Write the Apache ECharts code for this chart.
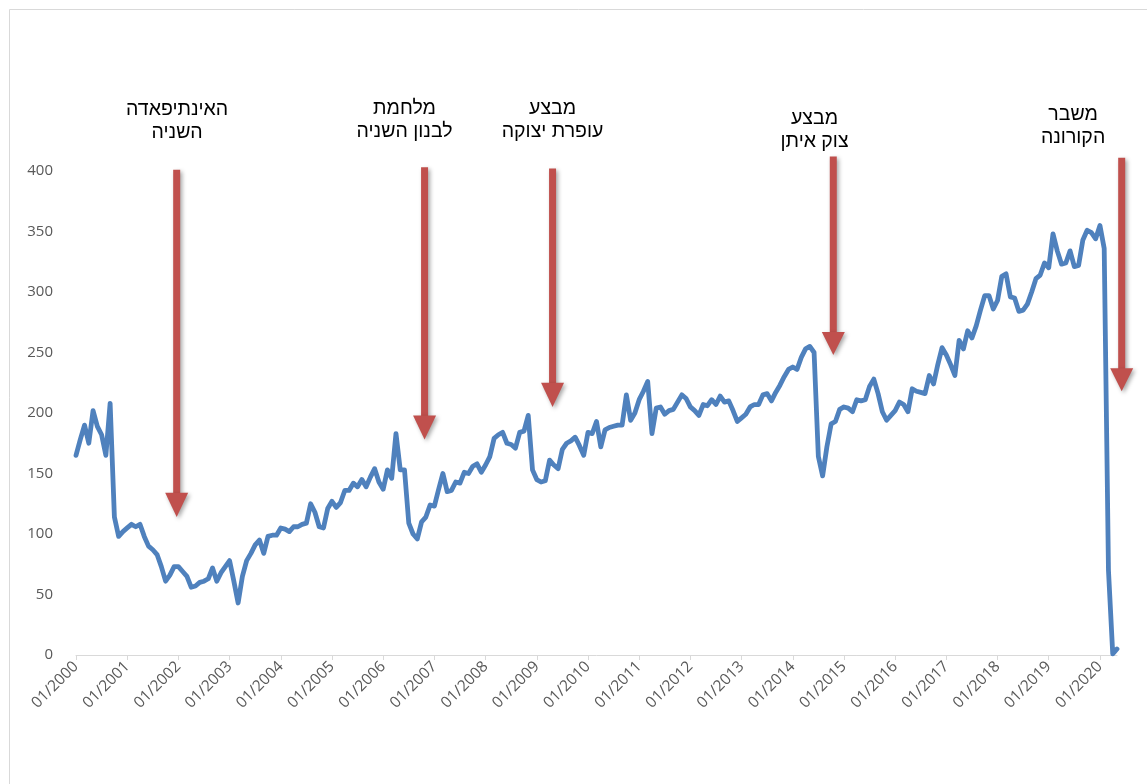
<!DOCTYPE html>
<html>
<head>
<meta charset="utf-8">
<script src="https://cdn.jsdelivr.net/npm/echarts@6/dist/echarts.min.js"></script>
<style>
html,body{margin:0;padding:0;background:#fff;}
#c{width:1147px;height:784px;}
</style>
</head>
<body>
<div id="c"></div>
<script>
// ---- data (monthly, 01/2000 .. 05/2020) ----
const years = [2000,2001,2002,2003,2004,2005,2006,2007,2008,2009,2010,2011,2012,2013,2014,2015,2016,2017,2018,2019,2020];
const v2000 = [165,178,190,175,202,189,182,165,208,114,98,102];
const v2001 = [105,108,106,108,98,90,87,83,73,61,66,73];
const v2002 = [73,69,65,56,57,60,61,63,72,61,68,73];
const v2003 = [78,61,43,65,78,84,91,95,84,98,99,99];
const v2004 = [105,104,102,106,106,108,109,125,118,106,105,121];
const v2005 = [127,122,126,136,136,142,139,145,139,147,154,143];
const v2006 = [137,153,146,183,153,153,109,100,96,110,114,124];
const v2007 = [123,137,150,135,136,143,142,151,150,156,158,151];
const v2008 = [157,164,179,182,184,175,174,171,184,185,198,153];
const v2009 = [145,143,144,161,157,154,170,175,177,180,173,165];
const v2010 = [184,183,193,172,186,188,189,190,190,215,194,200];
const v2011 = [211,218,226,183,204,205,199,202,203,209,215,212];
const v2012 = [205,202,198,207,206,211,207,214,209,210,202,193];
const v2013 = [196,199,205,207,207,215,216,210,217,223,230,236];
const v2014 = [238,236,246,253,255,250,164,148,172,191,193,203];
const v2015 = [205,204,201,211,210,211,222,228,216,201,194,198];
const v2016 = [202,209,207,201,220,218,217,216,231,224,240,254];
const v2017 = [248,240,231,260,253,268,262,272,285,297,297,286];
const v2018 = [293,313,315,296,295,284,285,290,300,311,314,324];
const v2019 = [320,348,334,323,324,334,321,322,343,351,349,344];
const v2020 = [355,336,70,1,5];

const yMin = 0, yMax = 400, yStep = 50;

// annotations: month index (from 01/2000) and values on the y scale
const annLines = [
  ['האינתיפאדה','השניה'],
  ['מלחמת','לבנון השניה'],
  ['מבצע','עופרת יצוקה'],
  ['מבצע','צוק איתן'],
  ['משבר','הקורונה']
];
const annTextAt  = [[23.7,441],[77.0,442],[111.7,442],[173.1,434],[233.7,437]];
const annArrowX  = [23.6, 81.7, 111.7, 177.5, 245.1];
const annArrowTop  = [401, 403, 402, 412, 411];
const annArrowBase = [134, 198, 225, 267, 237];
const annArrowTip  = [114, 178, 205, 248, 218];

// ---- build ----
const values = [].concat(v2000,v2001,v2002,v2003,v2004,v2005,v2006,v2007,v2008,v2009,
  v2010,v2011,v2012,v2013,v2014,v2015,v2016,v2017,v2018,v2019,v2020);
const categories = [];
years.forEach(y => { for (let mo = 1; mo <= 12; mo++) categories.push(String(mo).padStart(2,'0') + '/' + y); });
categories.length = values.length;

const chart = echarts.init(document.getElementById('c'), null, {renderer:'canvas'});
const FONT = "'Open Sans', 'DejaVu Sans', sans-serif";
chart.setOption({
  animation: false,
  backgroundColor: '#ffffff',
  textStyle: {fontFamily: FONT},
  grid: {left: 76, right: 30, top: 171, bottom: 129, containLabel: false},
  xAxis: {
    type: 'category',
    data: categories,
    boundaryGap: false,
    axisLine: {show: true, lineStyle: {color: '#d9d9d9', width: 1}},
    axisTick: {show: true, interval: (i) => i % 12 === 0, length: 5, lineStyle: {color: '#d9d9d9'}},
    axisLabel: {show: true, interval: (i) => i % 12 === 0, rotate: 45, color: '#595959', fontSize: 15.5, margin: 9, fontFamily: FONT, hideOverlap: false},
    splitLine: {show: false}
  },
  yAxis: {
    type: 'value',
    min: yMin, max: yMax, interval: yStep,
    axisLine: {show: false},
    axisTick: {show: false},
    splitLine: {show: false},
    axisLabel: {color: '#595959', fontSize: 15, margin: 23, fontFamily: FONT}
  },
  series: [{
    type: 'line',
    data: values,
    showSymbol: false,
    symbol: 'none',
    clip: false,
    lineStyle: {color: '#4F81BD', width: 4.8, cap: 'round', join: 'round'},
    itemStyle: {color: '#4F81BD'}
  }]
});

// annotation graphics positioned through the chart's own scales
const p0 = chart.convertToPixel({seriesIndex: 0}, [0, 0]);
const pN = chart.convertToPixel({seriesIndex: 0}, [values.length - 1, yMax]);
const step = (pN[0] - p0[0]) / (values.length - 1);
const ys = (p0[1] - pN[1]) / yMax;
const px = m => p0[0] + step * m;
const py = v => p0[1] - ys * v;

const RED = '#C0504D';
const shadow = {shadowBlur: 4, shadowOffsetX: 2, shadowOffsetY: 2, shadowColor: 'rgba(0,0,0,0.35)'};
const elements = [{
  type: 'rect', silent: true, z: 0,
  shape: {x: 9.5, y: 9.5, width: 1300, height: 1000},
  style: {fill: 'none', stroke: '#d9d9d9', lineWidth: 1}
}];
annLines.forEach((lines, i) => {
  const ax = px(annArrowX[i]);
  const top = py(annArrowTop[i]), base = py(annArrowBase[i]), tip = py(annArrowTip[i]);
  elements.push({
    type: 'rect', silent: true, z: 10,
    shape: {x: ax - 3.5, y: top, width: 7, height: base - top + 1},
    style: Object.assign({fill: RED}, shadow)
  });
  elements.push({
    type: 'polygon', silent: true, z: 10,
    shape: {points: [[ax - 11.5, base], [ax + 11.5, base], [ax, tip]]},
    style: Object.assign({fill: RED}, shadow)
  });
  elements.push({
    type: 'text', silent: true, z: 10,
    x: px(annTextAt[i][0]), y: py(annTextAt[i][1]),
    style: {
      text: lines.join('\n'),
      align: 'center', verticalAlign: 'middle',
      font: "19.5px 'Liberation Sans', 'DejaVu Sans', sans-serif",
      lineHeight: 23, fill: '#000000'
    }
  });
});
chart.setOption({graphic: {elements: elements}});
</script>
</body>
</html>
